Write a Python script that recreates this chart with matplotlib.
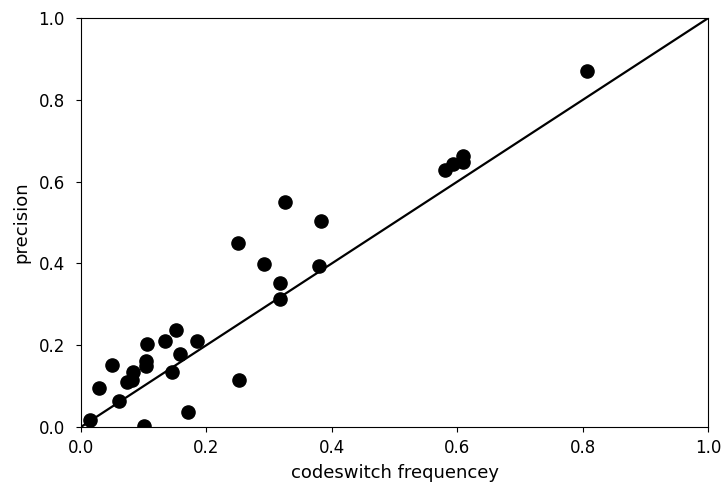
import matplotlib
matplotlib.use("Agg")
import matplotlib.pyplot as plt

# codeswitch frequency vs precision
freq = [0.015, 0.029, 0.050, 0.061, 0.073, 0.082, 0.083, 0.104, 0.104, 0.106,
        0.100, 0.134, 0.151, 0.158, 0.145, 0.170, 0.185, 0.252, 0.250, 0.292,
        0.318, 0.318, 0.325, 0.379, 0.382, 0.581, 0.593, 0.609, 0.609, 0.807]
precision = [0.017, 0.096, 0.151, 0.064, 0.111, 0.115, 0.135, 0.161, 0.150, 0.202,
             0.002, 0.210, 0.237, 0.178, 0.134, 0.036, 0.210, 0.115, 0.449, 0.399,
             0.353, 0.313, 0.549, 0.394, 0.504, 0.628, 0.642, 0.663, 0.649, 0.870]

fig, ax = plt.subplots(figsize=(7.22, 4.88), dpi=100)
fig.subplots_adjust(left=0.112, right=0.981, bottom=0.125, top=0.963)

ax.scatter(freq, precision, s=90, color="black", zorder=3)
ax.plot([0, 1], [0, 1], color="black", linewidth=1.6)

ax.set_xlim(0, 1)
ax.set_ylim(0, 1)
ax.set_xlabel("codeswitch frequencey", fontsize=13, labelpad=5)
ax.set_ylabel("precision", fontsize=13, labelpad=6)
ax.tick_params(axis="x", labelsize=12, pad=5)
ax.tick_params(axis="y", labelsize=12, pad=8)

fig.savefig("out.png")
